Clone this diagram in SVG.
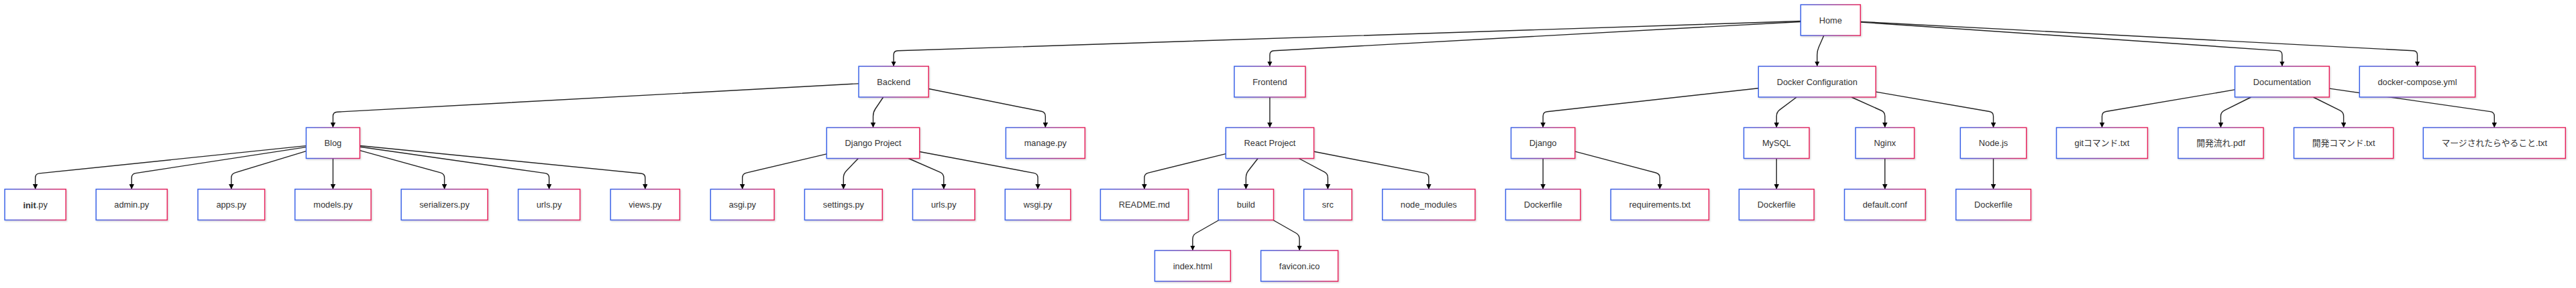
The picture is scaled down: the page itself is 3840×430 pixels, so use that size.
<svg xmlns="http://www.w3.org/2000/svg" width="3840" height="430" viewBox="0 0 3840 430">
<defs>
<linearGradient id="grad" x1="0" y1="0" x2="1" y2="0">
<stop offset="0" stop-color="#3b63e8"/>
<stop offset="1" stop-color="#e6245c"/>
</linearGradient>
<filter id="sh" x="-10%" y="-20%" width="120%" height="150%">
<feDropShadow dx="1.2" dy="1.5" stdDeviation="1" flood-color="#000" flood-opacity="0.16"/>
</filter>
<marker id="arr" viewBox="0 0 10 10" refX="10" refY="5" markerWidth="7.5" markerHeight="7.5" markerUnits="userSpaceOnUse" orient="auto">
<path d="M0,0 L10,5 L0,10 z" fill="#000"/>
</marker>
</defs>
<style>
.e{fill:none;stroke:#222;stroke-width:1.4;marker-end:url(#arr)}
.n rect{fill:#fff;stroke:url(#grad);stroke-width:1.5;filter:url(#sh)}
.n text{font-family:"Liberation Sans","Noto Sans CJK JP",Arial,sans-serif;font-size:12.8px;fill:#333;text-anchor:middle;dominant-baseline:central}
</style>
<rect width="3840" height="430" fill="#fff"/>
<g id="connectors">
<path class="e" d="M2684.3,31.5 L1338.15,75.8 Q1332.15,76 1332.15,82 L1332.15,99"/>
<path class="e" d="M2684.3,32.45 L1898.9,75.7 Q1892.9,76 1892.9,82 L1892.9,99"/>
<path class="e" d="M2718.8,53 L2711.15,70.5 Q2708.75,76 2708.75,82 L2708.75,99"/>
<path class="e" d="M2773.3,33.04 L3395.9,75.6 Q3401.9,76 3401.9,82 L3401.9,99"/>
<path class="e" d="M2773.3,32.34 L3597.5,75.7 Q3603.5,76 3603.5,82 L3603.5,99"/>
<path class="e" d="M1280.1,124.83 L502.4,167.2 Q496.4,167.5 496.4,173.5 L496.4,190.5"/>
<path class="e" d="M1316.7,145 L1304.9,162.5 Q1301.55,167.5 1301.55,173.5 L1301.55,190.5"/>
<path class="e" d="M1384.2,132.47 L1552.5,166.3 Q1558.35,167.5 1558.35,173.5 L1558.35,190.5"/>
<path class="e" d="M456.4,217.65 L58.6,258.9 Q52.65,259.5 52.65,265.5 L52.65,282.5"/>
<path class="e" d="M456.4,219.63 L202.2,258.6 Q196.25,259.5 196.25,265.5 L196.25,282.5"/>
<path class="e" d="M456.4,225.64 L350.5,257.8 Q344.8,259.5 344.8,265.5 L344.8,282.5"/>
<path class="e" d="M496.4,236.5 L496.4,282.5"/>
<path class="e" d="M536.4,224.57 L656.8,257.9 Q662.55,259.5 662.55,265.5 L662.55,282.5"/>
<path class="e" d="M536.4,219.21 L812.6,258.65 Q818.55,259.5 818.55,265.5 L818.55,282.5"/>
<path class="e" d="M536.4,217.45 L955.7,258.96 Q961.7,259.5 961.7,265.5 L961.7,282.5"/>
<path class="e" d="M1232.3,229.84 L1112.5,258.1 Q1106.65,259.5 1106.65,265.5 L1106.65,282.5"/>
<path class="e" d="M1279.45,236.5 L1261.5,255.2 Q1257.35,259.5 1257.35,265.5 L1257.35,282.5"/>
<path class="e" d="M1354.2,236.5 L1401.3,257.1 Q1406.8,259.5 1406.8,265.5 L1406.8,282.5"/>
<path class="e" d="M1370.8,226.47 L1541.2,258.4 Q1547.1,259.5 1547.1,265.5 L1547.1,282.5"/>
<path class="e" d="M1892.9,145 L1892.9,190.5"/>
<path class="e" d="M1827.3,229.64 L1711.7,258.1 Q1705.9,259.5 1705.9,265.5 L1705.9,282.5"/>
<path class="e" d="M1875.15,236.5 L1861,254.75 Q1857.35,259.5 1857.35,265.5 L1857.35,282.5"/>
<path class="e" d="M1936.2,236.5 L1974.1,256.7 Q1979.4,259.5 1979.4,265.5 L1979.4,282.5"/>
<path class="e" d="M1958.6,226.25 L2123.9,258.4 Q2129.8,259.5 2129.8,265.5 L2129.8,282.5"/>
<path class="e" d="M1817.2,328.5 L1783.1,348 Q1777.85,351 1777.85,357 L1777.85,374"/>
<path class="e" d="M1897.7,328.5 L1931.9,348 Q1937.1,351 1937.1,357 L1937.1,374"/>
<path class="e" d="M2621.3,131.74 L2306.1,166.8 Q2300.15,167.5 2300.15,173.5 L2300.15,190.5"/>
<path class="e" d="M2678.2,145 L2653.05,163.9 Q2648.25,167.5 2648.25,173.5 L2648.25,190.5"/>
<path class="e" d="M2759.8,145 L2804.3,165 Q2809.8,167.5 2809.8,173.5 L2809.8,190.5"/>
<path class="e" d="M2796.2,137.14 L2965.6,166.5 Q2971.5,167.5 2971.5,173.5 L2971.5,190.5"/>
<path class="e" d="M2300.15,236.5 L2300.15,282.5"/>
<path class="e" d="M2347.8,226.09 L2468.5,258 Q2474.3,259.5 2474.3,265.5 L2474.3,282.5"/>
<path class="e" d="M2648.25,236.5 L2648.25,282.5"/>
<path class="e" d="M2809.8,236.5 L2809.8,282.5"/>
<path class="e" d="M2971.5,236.5 L2971.5,282.5"/>
<path class="e" d="M3331.5,133.93 L3139.4,166.5 Q3133.45,167.5 3133.45,173.5 L3133.45,190.5"/>
<path class="e" d="M3355.7,145 L3315.8,164.8 Q3310.45,167.5 3310.45,173.5 L3310.45,190.5"/>
<path class="e" d="M3448.25,145 L3488.2,164.8 Q3493.6,167.5 3493.6,173.5 L3493.6,190.5"/>
<path class="e" d="M3472.3,132.12 L3712.4,166.6 Q3718.3,167.5 3718.3,173.5 L3718.3,190.5"/>
</g>
<g id="n-home" class="n"><rect x="2684.3" y="7" width="89" height="46"/><text x="2728.8" y="30">Home</text></g>
<g id="n-backend" class="n"><rect x="1280.1" y="99" width="104.1" height="46"/><text x="1332.15" y="122">Backend</text></g>
<g id="n-frontend" class="n"><rect x="1839.9" y="99" width="106" height="46"/><text x="1892.9" y="122">Frontend</text></g>
<g id="n-docker" class="n"><rect x="2621.3" y="99" width="174.9" height="46"/><text x="2708.75" y="122">Docker Configuration</text></g>
<g id="n-docs" class="n"><rect x="3331.5" y="99" width="140.8" height="46"/><text x="3401.9" y="122">Documentation</text></g>
<g id="n-compose" class="n"><rect x="3517.3" y="99" width="172.4" height="46"/><text x="3603.5" y="122">docker-compose.yml</text></g>
<g id="n-blog" class="n"><rect x="456.4" y="190.5" width="80" height="46"/><text x="496.4" y="213.5">Blog</text></g>
<g id="n-djproj" class="n"><rect x="1232.3" y="190.5" width="138.5" height="46"/><text x="1301.55" y="213.5">Django Project</text></g>
<g id="n-manage" class="n"><rect x="1499.4" y="190.5" width="117.9" height="46"/><text x="1558.35" y="213.5">manage.py</text></g>
<g id="n-react" class="n"><rect x="1827.3" y="190.5" width="131.3" height="46"/><text x="1892.95" y="213.5">React Project</text></g>
<g id="n-django" class="n"><rect x="2252.5" y="190.5" width="95.3" height="46"/><text x="2300.15" y="213.5">Django</text></g>
<g id="n-mysql" class="n"><rect x="2599.5" y="190.5" width="97.5" height="46"/><text x="2648.25" y="213.5">MySQL</text></g>
<g id="n-nginx" class="n"><rect x="2766" y="190.5" width="87.6" height="46"/><text x="2809.8" y="213.5">Nginx</text></g>
<g id="n-node" class="n"><rect x="2922.3" y="190.5" width="98.4" height="46"/><text x="2971.5" y="213.5">Node.js</text></g>
<g id="n-git" class="n"><rect x="3065.5" y="190.5" width="135.9" height="46"/><text x="3133.45" y="213.5">gitコマンド.txt</text></g>
<g id="n-flow" class="n"><rect x="3246.9" y="190.5" width="127.1" height="46"/><text x="3310.45" y="213.5">開発流れ.pdf</text></g>
<g id="n-devcmd" class="n"><rect x="3419.5" y="190.5" width="148.2" height="46"/><text x="3493.6" y="213.5">開発コマンド.txt</text></g>
<g id="n-merge" class="n"><rect x="3612.3" y="190.5" width="212" height="46"/><text x="3718.3" y="213.5">マージされたらやること.txt</text></g>
<g id="n-init" class="n"><rect x="7.1" y="282.5" width="91.1" height="46"/><text x="52.65" y="305.5"><tspan font-weight="bold">init</tspan>.py</text></g>
<g id="n-admin" class="n"><rect x="143.2" y="282.5" width="106.1" height="46"/><text x="196.25" y="305.5">admin.py</text></g>
<g id="n-apps" class="n"><rect x="295" y="282.5" width="99.6" height="46"/><text x="344.8" y="305.5">apps.py</text></g>
<g id="n-models" class="n"><rect x="439.7" y="282.5" width="113.4" height="46"/><text x="496.4" y="305.5">models.py</text></g>
<g id="n-serial" class="n"><rect x="598.1" y="282.5" width="128.9" height="46"/><text x="662.55" y="305.5">serializers.py</text></g>
<g id="n-urls1" class="n"><rect x="772.5" y="282.5" width="92.1" height="46"/><text x="818.55" y="305.5">urls.py</text></g>
<g id="n-views" class="n"><rect x="910.1" y="282.5" width="103.2" height="46"/><text x="961.7" y="305.5">views.py</text></g>
<g id="n-asgi" class="n"><rect x="1059.2" y="282.5" width="94.9" height="46"/><text x="1106.65" y="305.5">asgi.py</text></g>
<g id="n-settings" class="n"><rect x="1199.4" y="282.5" width="115.9" height="46"/><text x="1257.35" y="305.5">settings.py</text></g>
<g id="n-urls2" class="n"><rect x="1360.5" y="282.5" width="92.6" height="46"/><text x="1406.8" y="305.5">urls.py</text></g>
<g id="n-wsgi" class="n"><rect x="1498.3" y="282.5" width="97.6" height="46"/><text x="1547.1" y="305.5">wsgi.py</text></g>
<g id="n-readme" class="n"><rect x="1640.4" y="282.5" width="131" height="46"/><text x="1705.9" y="305.5">README.md</text></g>
<g id="n-build" class="n"><rect x="1816.2" y="282.5" width="82.3" height="46"/><text x="1857.35" y="305.5">build</text></g>
<g id="n-src" class="n"><rect x="1943.6" y="282.5" width="71.6" height="46"/><text x="1979.4" y="305.5">src</text></g>
<g id="n-nodemod" class="n"><rect x="2060.7" y="282.5" width="138.2" height="46"/><text x="2129.8" y="305.5">node_modules</text></g>
<g id="n-df1" class="n"><rect x="2244.4" y="282.5" width="111.5" height="46"/><text x="2300.15" y="305.5">Dockerfile</text></g>
<g id="n-req" class="n"><rect x="2401.2" y="282.5" width="146.2" height="46"/><text x="2474.3" y="305.5">requirements.txt</text></g>
<g id="n-df2" class="n"><rect x="2592.4" y="282.5" width="111.7" height="46"/><text x="2648.25" y="305.5">Dockerfile</text></g>
<g id="n-defconf" class="n"><rect x="2749.5" y="282.5" width="120.6" height="46"/><text x="2809.8" y="305.5">default.conf</text></g>
<g id="n-df3" class="n"><rect x="2915.7" y="282.5" width="111.7" height="46"/><text x="2971.5" y="305.5">Dockerfile</text></g>
<g id="n-index" class="n"><rect x="1721.4" y="374" width="112.9" height="46"/><text x="1777.85" y="397">index.html</text></g>
<g id="n-favicon" class="n"><rect x="1879.6" y="374" width="115" height="46"/><text x="1937.1" y="397">favicon.ico</text></g>
</svg>
